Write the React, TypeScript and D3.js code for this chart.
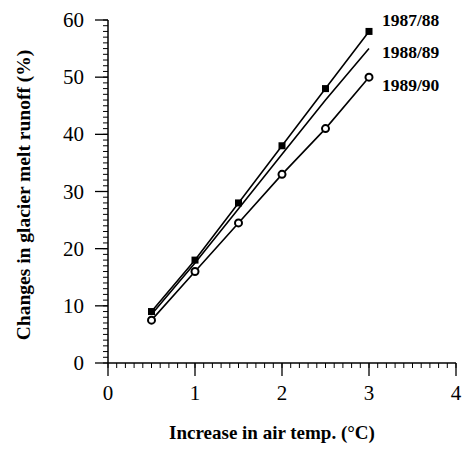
import React from "react";
import * as d3 from "d3";

// Air temperature increase (°C) and resulting change in glacier melt runoff (%)
const tempIncrease = [0.5, 1, 1.5, 2, 2.5, 3];
const runoff8788 = [9, 18, 28, 38, 48, 58];
const runoff8889 = [8.5, 17.5, 27, 36.5, 46, 55];
const runoff8990 = [7.5, 16, 24.5, 33, 41, 50];
const seriesNames = ["1987/88", "1988/89", "1989/90"];

const xTicks = [0, 1, 2, 3, 4];
const yTicks = [0, 10, 20, 30, 40, 50, 60];

const W = 465;
const H = 450;
const serif = "'Liberation Serif', 'Times New Roman', serif";

export default function App() {
  const x = d3.scaleLinear().domain([0, 4]).range([108, 456]);
  const y = d3.scaleLinear().domain([0, 60]).range([363, 20]);

  const line = d3
    .line<number>()
    .x((_, i) => x(tempIncrease[i]))
    .y((d) => y(d));

  const xMinor = d3.range(0, 40.001, 1).map((v) => v / 10);
  const yMinor = d3.range(0, 61, 1);

  const labelPos = [
    { x: 382, y: 26 },
    { x: 382, y: 58 },
    { x: 382, y: 91 },
  ];

  return (
    <svg
      width={W}
      height={H}
      style={{ position: "absolute", left: 0, top: 0, background: "#fff" }}
    >
      <g stroke="#000" fill="none">
        {/* axes */}
        <line x1={x(0)} x2={x(4)} y1={y(0)} y2={y(0)} strokeWidth={1.5} />
        <line x1={x(0)} x2={x(0)} y1={y(0)} y2={y(60)} strokeWidth={1.5} />
        {/* x minor ticks */}
        {xMinor.map((v) => (
          <line key={"xm" + v} x1={x(v)} x2={x(v)} y1={y(0)} y2={y(0) + 5} strokeWidth={1} />
        ))}
        {/* x major ticks */}
        {xTicks.map((v) => (
          <line key={"xM" + v} x1={x(v)} x2={x(v)} y1={y(0)} y2={y(0) + 13} strokeWidth={1.3} />
        ))}
        {/* y minor ticks */}
        {yMinor.map((v) => (
          <line key={"ym" + v} x1={x(0) - 5} x2={x(0)} y1={y(v)} y2={y(v)} strokeWidth={1} />
        ))}
        {/* y major ticks */}
        {yTicks.map((v) => (
          <line key={"yM" + v} x1={x(0) - 13} x2={x(0)} y1={y(v)} y2={y(v)} strokeWidth={1.3} />
        ))}
      </g>

      {/* tick labels */}
      <g fontFamily={serif} fontSize={21} fill="#000">
        {xTicks.map((v) => (
          <text key={"xl" + v} x={x(v)} y={400} textAnchor="middle">
            {v}
          </text>
        ))}
        {yTicks.map((v) => (
          <text key={"yl" + v} x={x(0) - 24} y={y(v) + 7} textAnchor="end">
            {v}
          </text>
        ))}
      </g>

      {/* series lines */}
      <g fill="none" stroke="#000" strokeWidth={1.6}>
        <path d={line(runoff8788) ?? ""} />
        <path d={line(runoff8889) ?? ""} />
        <path d={line(runoff8990) ?? ""} />
      </g>

      {/* markers */}
      {runoff8788.map((v, i) => (
        <rect
          key={"sq" + i}
          x={x(tempIncrease[i]) - 3.5}
          y={y(v) - 3.5}
          width={7}
          height={7}
          fill="#000"
        />
      ))}
      {runoff8990.map((v, i) => (
        <circle
          key={"ci" + i}
          cx={x(tempIncrease[i])}
          cy={y(v)}
          r={3.5}
          fill="#fff"
          stroke="#000"
          strokeWidth={2}
        />
      ))}

      {/* series labels */}
      <g fontFamily={serif} fontSize={17.5} fontWeight="bold" fill="#000">
        {seriesNames.map((n, i) => (
          <text key={n} x={labelPos[i].x} y={labelPos[i].y}>
            {n}
          </text>
        ))}
      </g>

      {/* axis titles */}
      <text
        x={272}
        y={439}
        textAnchor="middle"
        fontFamily={serif}
        fontSize={19}
        fontWeight="bold"
      >
        Increase in air temp. (°C)
      </text>
      <text
        transform="translate(30,195) rotate(-90)"
        textAnchor="middle"
        fontFamily={serif}
        fontSize={19.5}
        fontWeight="bold"
      >
        Changes in glacier melt runoff (%)
      </text>
    </svg>
  );
}
